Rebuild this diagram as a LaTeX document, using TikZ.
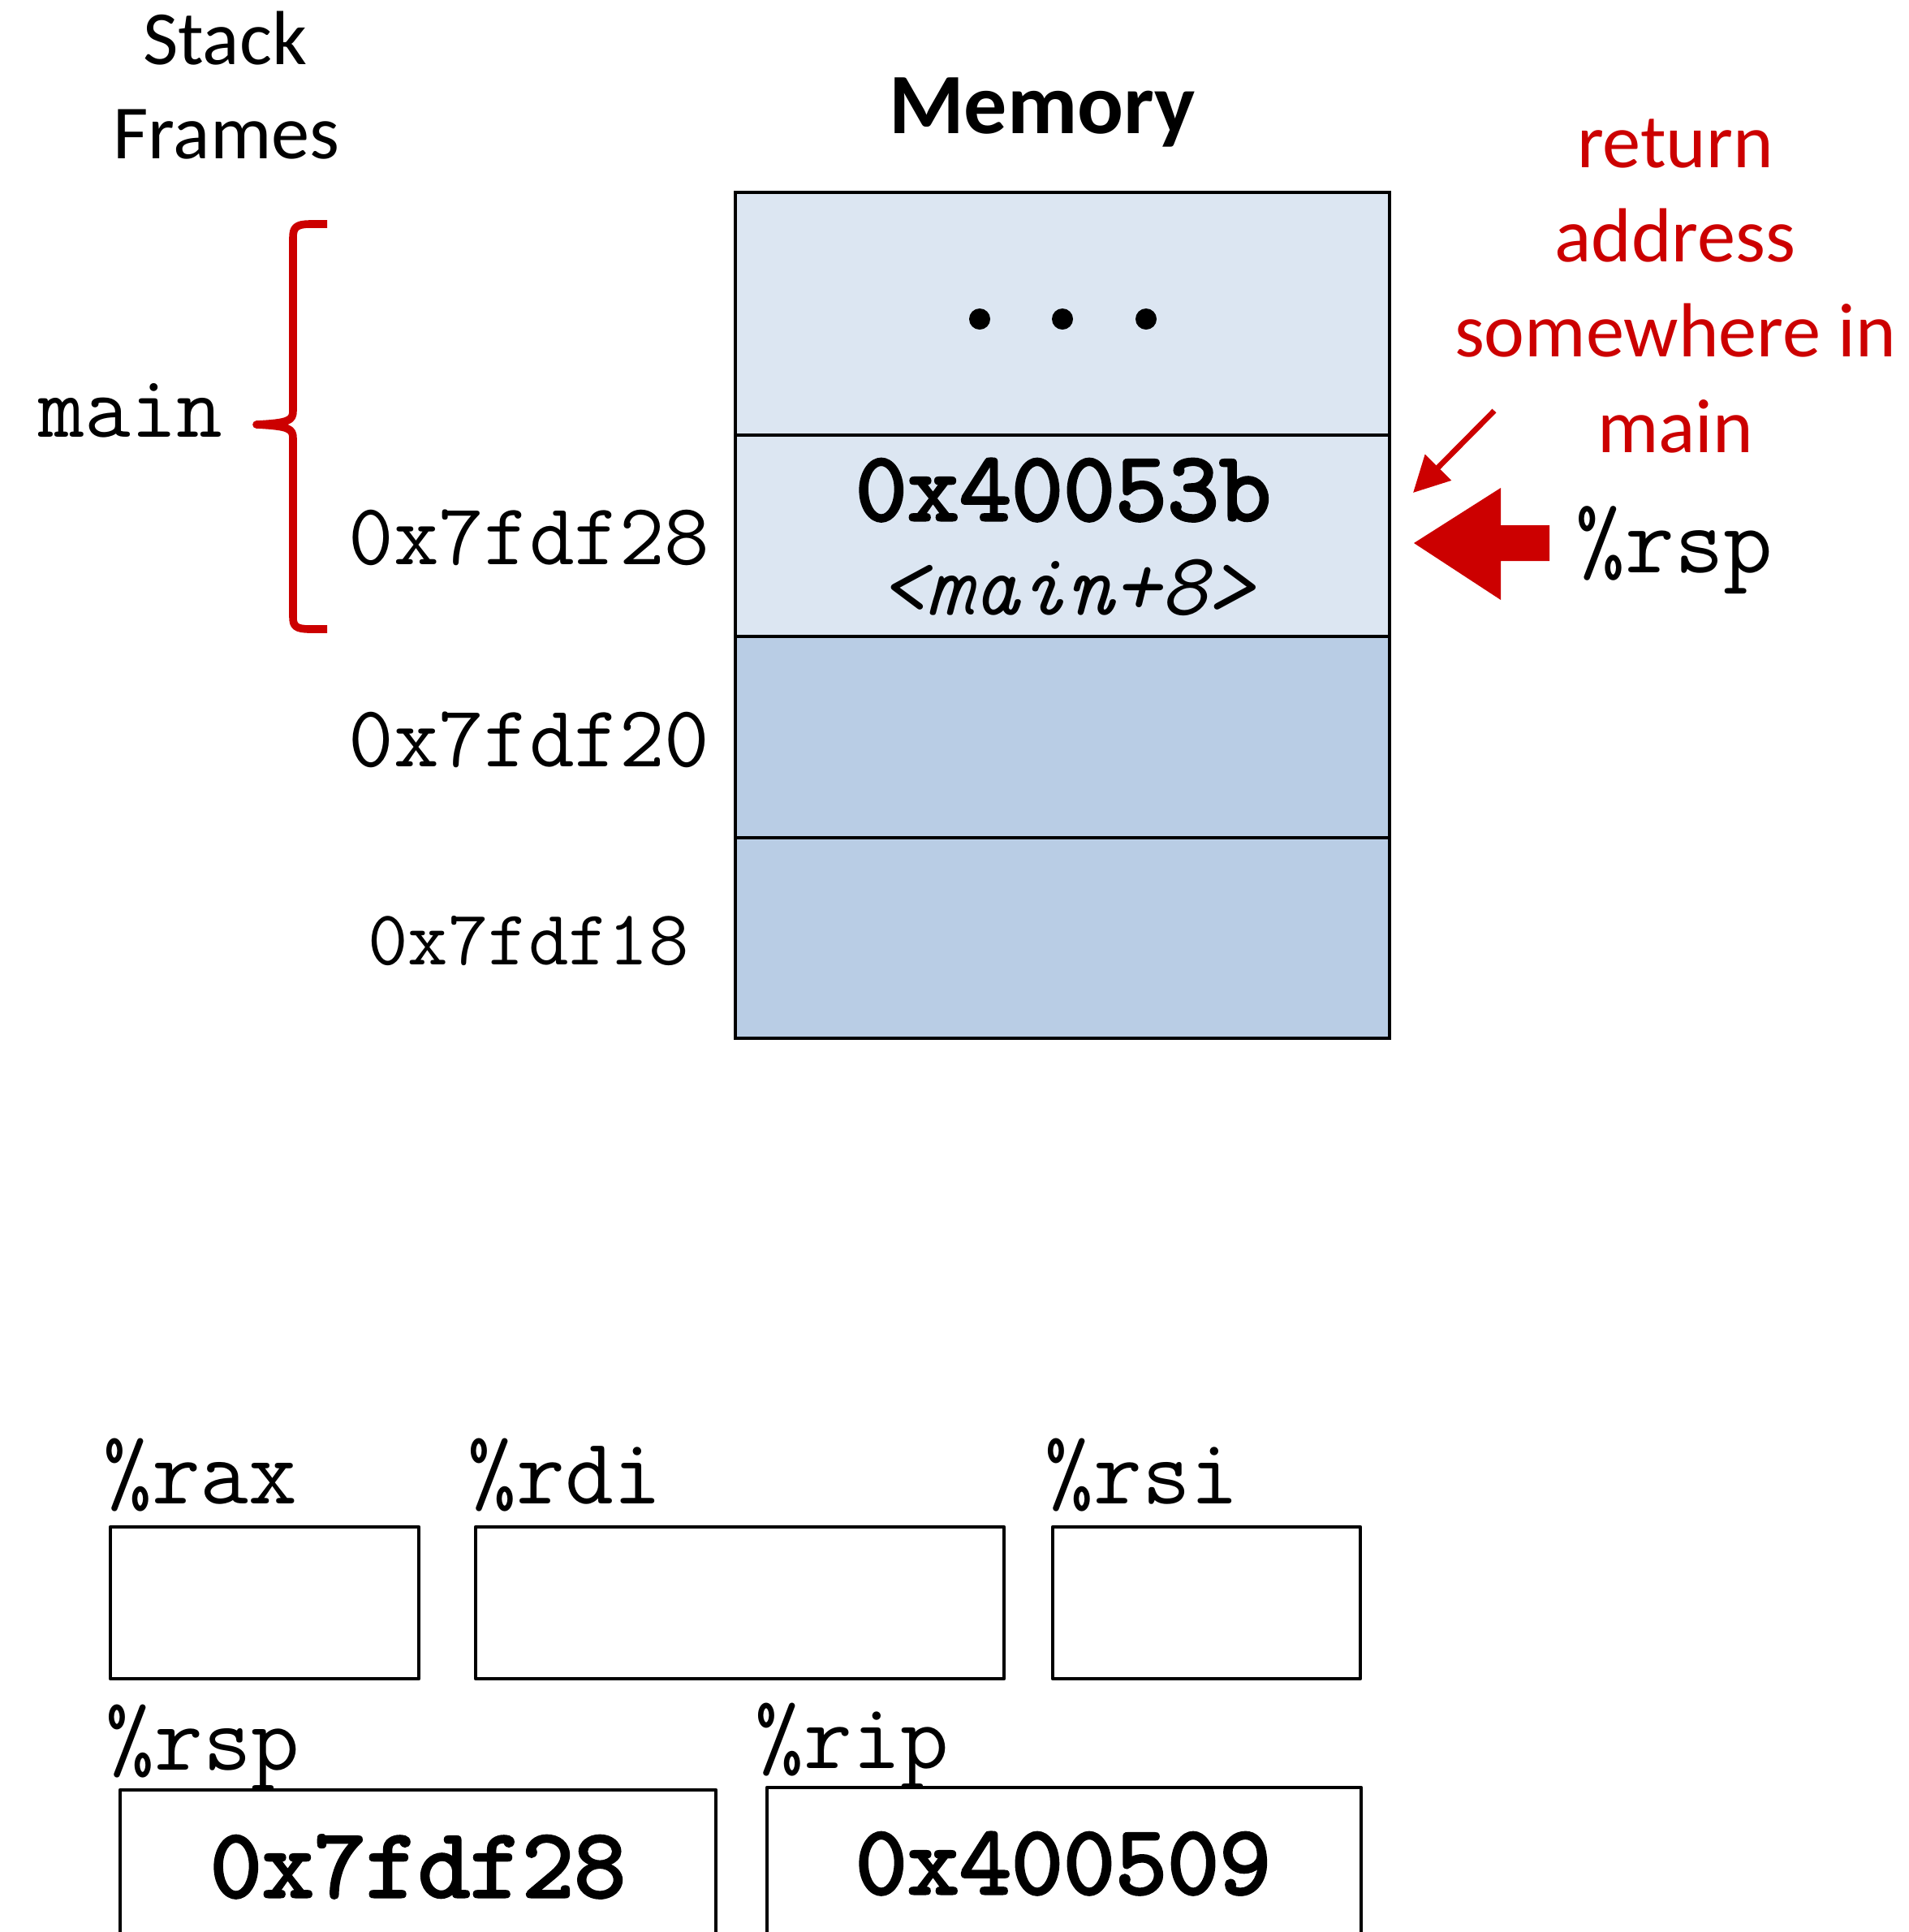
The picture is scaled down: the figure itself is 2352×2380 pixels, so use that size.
\documentclass[tikz,border=0pt]{standalone}
\usepackage{fontspec}
\setmainfont{Carlito}
\newcommand\monof{\ttfamily}
\newfontfamily\mbold{lmmono10-regular}[Extension=.otf, FakeBold=2.5]
\newfontfamily\mital{lmmono10-italic}[Extension=.otf]
\usetikzlibrary{arrows.meta}
\definecolor{redc}{RGB}{204,0,0}
\definecolor{memlight}{RGB}{220,230,242}
\definecolor{memdark}{RGB}{185,205,229}
\begin{document}
\begin{tikzpicture}[x=0.25pt,y=-0.25pt,
  cell/.style={draw=black, line width=1.2pt, inner sep=0pt, outer sep=0pt, minimum width=201.5pt},
  regbox/.style={draw=black, line width=1.2pt, line join=round, inner sep=0pt, outer sep=0pt},
  lbl/.style={inner sep=0pt, outer sep=0pt, anchor=base},
  sans/.style={lbl, font=\fontsize{23.6}{29}\selectfont},
  redtxt/.style={sans, text=redc},
  addr/.style={lbl, font=\monof\fontsize{27}{30}\selectfont},
  reglbl/.style={lbl, font=\monof\fontsize{29}{32}\selectfont},
  regval/.style={lbl, font=\mbold\fontsize{30.5}{33}\selectfont}
]
\path[use as bounding box] (0,0) rectangle (2352,2380);
\clip (0,0) rectangle (2352,2380);

% titles
\node[sans] (st1) at (277,79) {Stack};
\node[sans] (st2) at (279,195) {Frames};
\node[lbl, font=\bfseries\fontsize{26.5}{32}\selectfont] (mem) at (1284,164) {Memory};

% memory cells
\node[cell, fill=memlight, minimum height=74.75pt] (c1) at (1309,386.5) {};
\node[cell, fill=memlight, minimum height=62pt] (c2) at (1309,660) {};
\node[cell, fill=memdark, minimum height=62pt] (c3) at (1309,908) {};
\node[cell, fill=memdark, minimum height=61.75pt] (c4) at (1309,1155.5) {};

% dots
\fill (1207,393) circle[radius=13];
\fill (1309,393) circle[radius=13];
\fill (1412,393) circle[radius=13];

% cell contents
\node[regval] (ret) at (1310,641) {0x40053b};
\node[lbl, font=\mital\fontsize{27.5}{30}\selectfont] (retsym) at (1314,757) {<main+8>};

% addresses
\node[addr] (a28) at (652,695) {0x7fdf28};
\node[addr] (a20) at (652,944) {0x7fdf20};
\node[lbl, font=\monof\fontsize{24}{27}\selectfont] (a18) at (651,1188) {0x7fdf18};

% main frame brace
\node[lbl, font=\monof\fontsize{27.5}{30}\selectfont] (mainlbl) at (161,538) {main};
\draw[redc, line width=2.4pt, line join=round]
  (403,276) -- (382,276) .. controls (364,276) and (361,281) .. (361,293)
  -- (361,506) .. controls (361,518) and (356,521) .. (316,523)
  .. controls (356,525) and (361,528) .. (361,540)
  -- (361,760) .. controls (361,771) and (364,775) .. (382,775) -- (403,775);

% red annotation
\node[redtxt] (r1) at (2064,206) {return};
\node[redtxt] (r2) at (2064,322) {address};
\node[redtxt] (r3) at (2064,439) {somewhere in};
\node[redtxt] (r4) at (2064,557) {main};
\coordinate (ra1) at (1841,506);
\coordinate (ra2) at (1741,607);
\draw[redc, line width=1.7pt, -{Triangle[length=11pt,width=11pt]}] (ra1) -- (ra2);

% rsp pointer
\fill[redc] (1742,669) -- (1849,601) -- (1849,647) -- (1909,647) -- (1909,691)
  -- (1849,691) -- (1849,739) -- cycle;
\node[lbl, font=\monof\fontsize{29.5}{33}\selectfont] (rspptr) at (2063,705) {\%rsp};

% registers
\node[reglbl] (lrax) at (247,1852) {\%rax};
\node[reglbl] (lrdi) at (696,1852) {\%rdi};
\node[reglbl] (lrsi) at (1407,1852) {\%rsi};
\node[reglbl] (lrsp) at (250,2180) {\%rsp};
\node[reglbl] (lrip) at (1050,2178) {\%rip};

\node[regbox, minimum width=95pt, minimum height=46.75pt] (rax) at (326,1974.5) {};
\node[regbox, minimum width=162.75pt, minimum height=46.75pt] (rdi) at (911.5,1974.5) {};
\node[regbox, minimum width=94.75pt, minimum height=46.75pt] (rsi) at (1486.5,1974.5) {};
\node[regbox, minimum width=183.5pt, minimum height=48.75pt] (rsp) at (515,2302.5) {};
\node[regbox, minimum width=183pt, minimum height=49.5pt] (rip) at (1311,2301) {};

\node[regval] (vrsp) at (515,2337) {0x7fdf28};
\node[regval] (vrip) at (1310,2333) {0x400509};
\end{tikzpicture}
\end{document}
